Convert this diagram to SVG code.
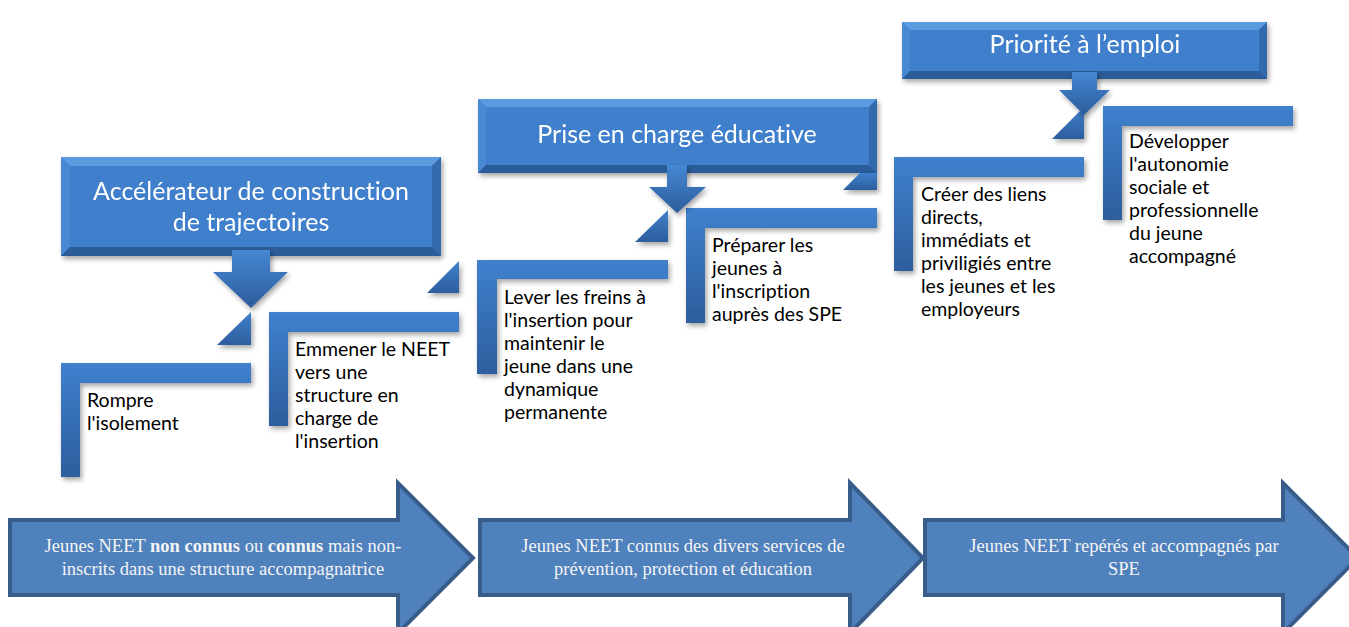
<svg xmlns="http://www.w3.org/2000/svg" width="1349" height="627" viewBox="0 0 1349 627">
<defs>
<linearGradient id="gL" x1="0" y1="0" x2="0" y2="1"><stop offset="0" stop-color="#3f80cd"/><stop offset="1" stop-color="#2d5e9d"/></linearGradient>
<linearGradient id="gA" x1="0" y1="0" x2="0" y2="1"><stop offset="0" stop-color="#4687d3"/><stop offset="1" stop-color="#2c5c9b"/></linearGradient>
<filter id="sh" x="-10%" y="-10%" width="130%" height="140%"><feDropShadow dx="2" dy="3" stdDeviation="2.5" flood-color="#000" flood-opacity="0.35"/></filter>
</defs>
<style>
.bc{fill:#3f7fcb}
.bt{fill:#5b9be0}
.bl{fill:#4a89d4}
.br{fill:#336aad}
.bb{fill:#2c5c99}
.hd{font-family:Lato,"Liberation Sans",sans-serif;font-size:25px;fill:#fff;text-anchor:middle;font-variant-ligatures:none}
.tx{font-family:Lato,"Liberation Sans",sans-serif;font-size:19.5px;fill:#000;font-variant-ligatures:none}
.lshape{fill:url(#gL);filter:url(#sh)}
.big{fill:#4f81bd;stroke:#385d8a;stroke-width:4}
.bt2{font-family:"Liberation Serif",serif;font-size:18.5px;fill:#f4f4f4;text-anchor:middle}
.tri{fill:url(#gL);filter:url(#sh)}
.arr{fill:url(#gA);filter:url(#sh)}
</style>

<g id="arrow-1">
<path class="big" d="M10,520 H398 V483 L473,558 L398,633 V595 H10 Z"/>
<text class="bt2" x="223" y="552">Jeunes NEET <tspan font-weight="bold">non connus</tspan> ou <tspan font-weight="bold">connus</tspan> mais non-</text>
<text class="bt2" x="223" y="575">inscrits dans une structure accompagnatrice</text>
</g>
<g id="arrow-2">
<path class="big" d="M480,520 H850 V483 L923,558 L850,633 V595 H480 Z"/>
<text class="bt2" x="683" y="552">Jeunes NEET connus des divers services de</text>
<text class="bt2" x="683" y="575">prévention, protection et éducation</text>
</g>
<g id="arrow-3">
<path class="big" d="M925,520 H1283 V483 L1358,558 L1283,633 V595 H925 Z"/>
<text class="bt2" x="1124" y="552">Jeunes NEET repérés et accompagnés par</text>
<text class="bt2" x="1124" y="575">SPE</text>
</g>

<g id="step-rompre">
<path class="lshape" d="M61,363 H251 V383 H80 V477 H61 Z"/>
<text class="tx" x="87" y="407">Rompre</text>
<text class="tx" x="87" y="430">l'isolement</text>
</g>
<g id="step-emmener">
<path class="lshape" d="M269,312 H459 V332 H288 V426 H269 Z"/>
<text class="tx" x="295" y="356">Emmener le NEET</text>
<text class="tx" x="295" y="379">vers une</text>
<text class="tx" x="295" y="402">structure en</text>
<text class="tx" x="295" y="425">charge de</text>
<text class="tx" x="295" y="448">l'insertion</text>
</g>
<g id="step-lever">
<path class="lshape" d="M477,260 H668 V279 H497 V374 H477 Z"/>
<text class="tx" x="504" y="304">Lever les freins à</text>
<text class="tx" x="504" y="327">l'insertion pour</text>
<text class="tx" x="504" y="350">maintenir le</text>
<text class="tx" x="504" y="373">jeune dans une</text>
<text class="tx" x="504" y="396">dynamique</text>
<text class="tx" x="504" y="419">permanente</text>
</g>
<g id="step-preparer">
<path class="lshape" d="M686,208 H877 V228 H705 V323 H686 Z"/>
<text class="tx" x="712" y="252">Préparer les</text>
<text class="tx" x="712" y="275">jeunes à</text>
<text class="tx" x="712" y="298">l'inscription</text>
<text class="tx" x="712" y="321">auprès des SPE</text>
</g>
<g id="step-creer">
<path class="lshape" d="M894,157 H1084 V177 H913 V271 H894 Z"/>
<text class="tx" x="921" y="201">Créer des liens</text>
<text class="tx" x="921" y="224">directs,</text>
<text class="tx" x="921" y="247">immédiats et</text>
<text class="tx" x="921" y="270">priviligiés entre</text>
<text class="tx" x="921" y="293">les jeunes et les</text>
<text class="tx" x="921" y="316">employeurs</text>
</g>
<g id="step-developper">
<path class="lshape" d="M1103,106 H1293 V126 H1122 V220 H1103 Z"/>
<text class="tx" x="1129" y="148">Développer</text>
<text class="tx" x="1129" y="171">l'autonomie</text>
<text class="tx" x="1129" y="194">sociale et</text>
<text class="tx" x="1129" y="217">professionnelle</text>
<text class="tx" x="1129" y="240">du jeune</text>
<text class="tx" x="1129" y="263">accompagné</text>
</g>

<g id="box-accelerateur" filter="url(#sh)">
<rect class="bc" x="61" y="157" width="380" height="99"/>
<polygon class="bt" points="61,157 441,157 432,166 70,166"/>
<polygon class="bl" points="61,157 70,166 70,247 61,256"/>
<polygon class="br" points="441,157 441,256 432,247 432,166"/>
<polygon class="bb" points="61,256 70,247 432,247 441,256"/>
<text class="hd" x="251" y="200">Accélérateur de construction</text>
<text class="hd" x="251" y="231">de trajectoires</text>
</g>
<g id="box-prise" filter="url(#sh)">
<rect class="bc" x="478" y="99" width="399" height="74"/>
<polygon class="bt" points="478,99 877,99 869,107 486,107"/>
<polygon class="bl" points="478,99 486,107 486,165 478,173"/>
<polygon class="br" points="877,99 877,173 869,165 869,107"/>
<polygon class="bb" points="478,173 486,165 869,165 877,173"/>
<text class="hd" x="677" y="143">Prise en charge éducative</text>
</g>
<g id="box-priorite" filter="url(#sh)">
<rect class="bc" x="902" y="22" width="365" height="57"/>
<polygon class="bt" points="902,22 1267,22 1259,30 910,30"/>
<polygon class="bl" points="902,22 910,30 910,71 902,79"/>
<polygon class="br" points="1267,22 1267,79 1259,71 1259,30"/>
<polygon class="bb" points="902,79 910,71 1259,71 1267,79"/>
<text class="hd" x="1085" y="53">Priorité à l’emploi</text>
</g>

<g id="connectors">
<polygon class="tri" points="251,312 251,345 217,345"/>
<polygon class="tri" points="459,261 459,293 427,293"/>
<polygon class="tri" points="668,210 668,242 635,242"/>
<polygon class="tri" points="860,173 877,173 877,190 843,190"/>
<polygon class="tri" points="1084,107 1084,139 1052,139"/>
<path class="arr" d="M232,250 H270 V272 H288 L251,308 L213,272 H232 Z"/>
<path class="arr" d="M667,165 H687 V187 H706 L677,213 L649,187 H667 Z"/>
<path class="arr" d="M1072,72 H1097 V90 H1110 L1084,115 L1059,90 H1072 Z"/>
</g>
</svg>
